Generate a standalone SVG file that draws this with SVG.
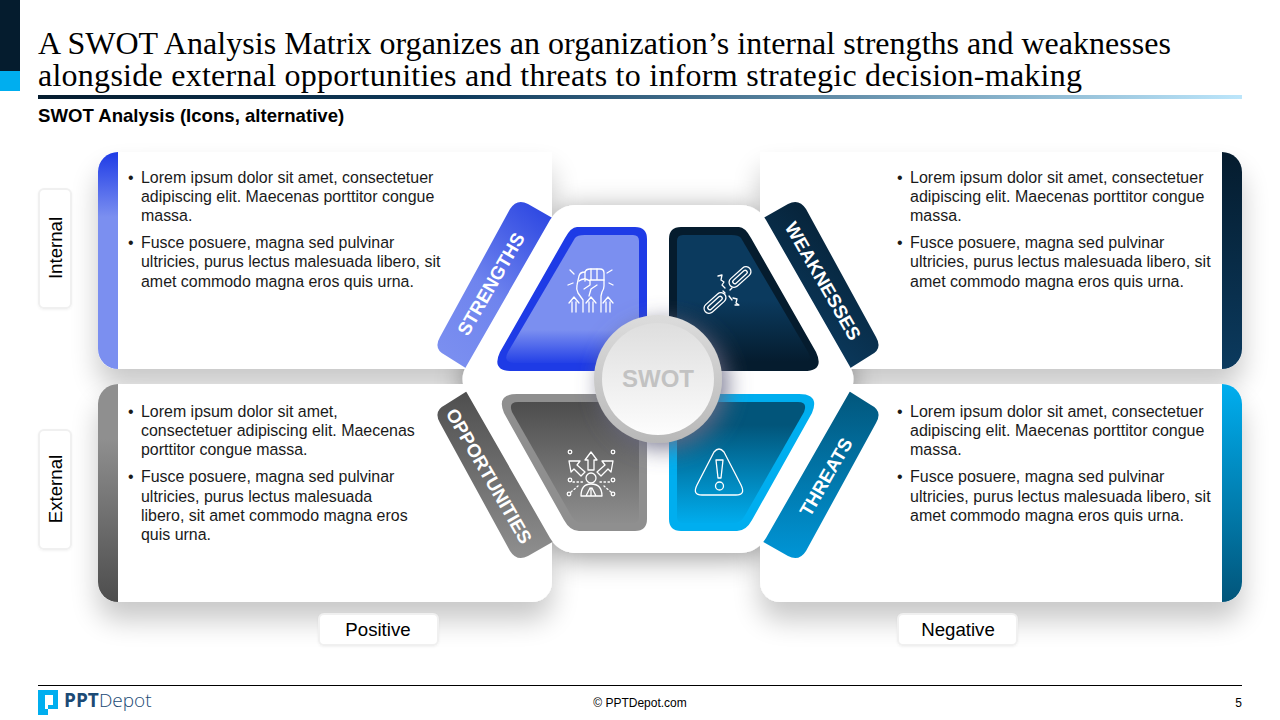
<svg xmlns="http://www.w3.org/2000/svg" width="1280" height="720" viewBox="0 0 1280 720">
<style>
text{font-family:"Liberation Sans",Arial,sans-serif}
.title{font-family:"Liberation Serif","Times New Roman",serif;font-size:32px;fill:#000}
.sub{font-size:18.6px;font-weight:700;fill:#000}
.body{font-size:15.95px;fill:#1a1a1a}
.bodyR{font-size:16px;fill:#1a1a1a}
.rib{font-size:18.67px;font-weight:700;fill:#fff;text-anchor:middle}
.tag{font-size:18.67px;fill:#000;text-anchor:middle}
.box{fill:#fff;stroke:#f0f0f0;stroke-width:2}
.ic{fill:none;stroke:#fff;stroke-width:1.3;stroke-linecap:round;stroke-linejoin:round}
</style>
<defs>
<linearGradient id="bar" x1="0" x2="1" y1="0" y2="0"><stop offset="0" stop-color="#051c2e"/><stop offset=".35" stop-color="#0f3b5c"/><stop offset="1" stop-color="#bce6fb"/></linearGradient>
<linearGradient id="bS" x1="0" x2="0" y1="0" y2="1"><stop offset="0" stop-color="#1e3be6"/><stop offset=".3" stop-color="#7b8ff0"/><stop offset="1" stop-color="#7b8ff0"/></linearGradient>
<linearGradient id="bW" x1="0" x2="0" y1="0" y2="1"><stop offset="0" stop-color="#051c2e"/><stop offset="1" stop-color="#0b3a5e"/></linearGradient>
<linearGradient id="bO" x1="0" x2="0" y1="0" y2="1"><stop offset="0" stop-color="#8f8f8f"/><stop offset=".25" stop-color="#8f8f8f"/><stop offset="1" stop-color="#4d4d4d"/></linearGradient>
<linearGradient id="bT" x1="0" x2="0" y1="0" y2="1"><stop offset="0" stop-color="#00aeef"/><stop offset="1" stop-color="#02557a"/></linearGradient>
<linearGradient id="rS" x1=".8" x2=".2" y1="0" y2="1"><stop offset="0" stop-color="#2f49e2"/><stop offset=".55" stop-color="#6f84ee"/><stop offset="1" stop-color="#7b8ff0"/></linearGradient>
<linearGradient id="rW" x1=".2" x2=".8" y1="0" y2="1"><stop offset="0" stop-color="#051c2e"/><stop offset=".8" stop-color="#0b3a5e"/></linearGradient>
<linearGradient id="rO" x1="0" x2="0" y1="1" y2="0"><stop offset="0" stop-color="#4d4d4d"/><stop offset="1" stop-color="#8f8f8f"/></linearGradient>
<linearGradient id="rT" x1="0" x2="0" y1="1" y2="0"><stop offset="0" stop-color="#02557a"/><stop offset="1" stop-color="#0095d6"/></linearGradient>
<linearGradient id="iS" gradientUnits="userSpaceOnUse" x1="0" x2="0" y1="330" y2="365"><stop offset="0" stop-color="#7b8ff0"/><stop offset="1" stop-color="#1e3be6"/></linearGradient>
<linearGradient id="iW" gradientUnits="userSpaceOnUse" x1="0" x2="0" y1="300" y2="362"><stop offset="0" stop-color="#0b3a5e"/><stop offset="1" stop-color="#051c2e"/></linearGradient>
<linearGradient id="iO" gradientUnits="userSpaceOnUse" x1="0" x2="0" y1="402" y2="525"><stop offset="0" stop-color="#4d4d4d"/><stop offset="1" stop-color="#8f8f8f"/></linearGradient>
<linearGradient id="iT" gradientUnits="userSpaceOnUse" x1="0" x2="0" y1="425" y2="525"><stop offset="0" stop-color="#02557a"/><stop offset="1" stop-color="#00aeef"/></linearGradient>
<linearGradient id="ring" x1="0" x2="0" y1="0" y2="1"><stop offset="0" stop-color="#dcdcdc"/><stop offset="1" stop-color="#b8b8b8"/></linearGradient>
<linearGradient id="disc" x1="0" x2="0" y1="0" y2="1"><stop offset="0" stop-color="#dedede"/><stop offset="1" stop-color="#fdfdfd"/></linearGradient>
<filter id="pShadow" filterUnits="userSpaceOnUse" x="40" y="100" width="1240" height="580"><feGaussianBlur in="SourceAlpha" stdDeviation="14"/><feOffset dy="18"/><feComponentTransfer><feFuncA type="linear" slope=".22"/></feComponentTransfer><feMerge><feMergeNode/><feMergeNode in="SourceGraphic"/></feMerge></filter>
<filter id="hShadow" x="-15%" y="-15%" width="130%" height="130%"><feDropShadow dx="0" dy="5" stdDeviation="14" flood-color="#000" flood-opacity=".4"/></filter>
<filter id="cShadow" x="-30%" y="-30%" width="170%" height="170%"><feDropShadow dx="6" dy="6" stdDeviation="11" flood-color="#6a6a85" flood-opacity=".85"/></filter>
<filter id="tShadow" x="-20%" y="-20%" width="140%" height="140%"><feDropShadow dx="0" dy="1" stdDeviation="1" flood-color="#000" flood-opacity=".05"/></filter>
<path id="hexPath" d="M577 205L739 205Q757 205 766 220L849 365Q858 379 849 393L766 538Q757 553 739 553L577 553Q559 553 550 538L467 393Q458 379 467 365L550 220Q559 205 577 205Z"/>
<path id="ribbon" d="M556 220L528 204Q517 198 510 209L440 337Q433 349 445 355L472 372Z"/>
<path id="qTopO" d="M577 227L635 227Q647 227 647 239L647 371L512 371Q491 371 500 352L565 238Q571 227 577 227Z"/>
<path id="qTopI" d="M585 235L633 235Q639 235 639 241L639 363L516 363Q502 363 508 352L575 238Q577 235 585 235Z"/>
<path id="qBotO" d="M517 394L635 394Q647 394 647 406L647 519Q647 531 635 531L579 531Q570 531 564 520L504 413Q496 394 517 394Z"/>
<path id="qBotI" d="M518 402L633 402Q639 402 639 408L639 517Q639 523 633 523L582 523Q576 523 572 517L512 412Q508 402 518 402Z"/>
</defs>
<rect width="1280" height="720" fill="#fff"/>
<g id="header">
<rect x="0" y="0" width="20" height="71" fill="#051c2e"/>
<rect x="0" y="71" width="20" height="20" fill="#00aeef"/>
<text class="title" x="38" y="53.500" textLength="1133">A SWOT Analysis Matrix organizes an organization’s internal strengths and weaknesses</text>
<text class="title" x="38" y="85.500" textLength="1044">alongside external opportunities and threats to inform strategic decision-making</text>
<rect x="38" y="95" width="1204" height="4" fill="url(#bar)"/>
<text class="sub" x="38" y="122">SWOT Analysis (Icons, alternative)</text>
</g>
<use href="#hexPath" fill="#fff" filter="url(#hShadow)"/>
<g id="panel-strengths">
<path d="M118 152H552V369H118A20 20 0 0 1 98 349V172A20 20 0 0 1 118 152Z" fill="#fff" filter="url(#pShadow)"/>
<path d="M118 152V369A20 20 0 0 1 98 349V172A20 20 0 0 1 118 152Z" fill="url(#bS)"/>
<text class="body"><tspan x="128" y="183">•</tspan><tspan x="141" y="183">Lorem ipsum dolor sit amet, consectetuer</tspan><tspan x="141" y="202">adipiscing elit. Maecenas porttitor congue</tspan><tspan x="141" y="221">massa.</tspan><tspan x="128" y="248">•</tspan><tspan x="141" y="248">Fusce posuere, magna sed pulvinar</tspan><tspan x="141" y="267">ultricies, purus lectus malesuada libero, sit</tspan><tspan x="141" y="287">amet commodo magna eros quis urna.</tspan></text>
</g>
<g id="panel-weaknesses">
<path d="M760 152H1222A20 20 0 0 1 1242 172V349A20 20 0 0 1 1222 369H760Z" fill="#fff" filter="url(#pShadow)"/>
<path d="M1222 152A20 20 0 0 1 1242 172V349A20 20 0 0 1 1222 369Z" fill="url(#bW)"/>
<text class="bodyR"><tspan x="897" y="183">•</tspan><tspan x="910" y="183">Lorem ipsum dolor sit amet, consectetuer</tspan><tspan x="910" y="202">adipiscing elit. Maecenas porttitor congue</tspan><tspan x="910" y="221">massa.</tspan><tspan x="897" y="248">•</tspan><tspan x="910" y="248">Fusce posuere, magna sed pulvinar</tspan><tspan x="910" y="267">ultricies, purus lectus malesuada libero, sit</tspan><tspan x="910" y="287">amet commodo magna eros quis urna.</tspan></text>
</g>
<g id="panel-opportunities">
<path d="M118 384H552V582A20 20 0 0 1 532 602H118A20 20 0 0 1 98 582V404A20 20 0 0 1 118 384Z" fill="#fff" filter="url(#pShadow)"/>
<path d="M118 384V602A20 20 0 0 1 98 582V404A20 20 0 0 1 118 384Z" fill="url(#bO)"/>
<text class="body"><tspan x="128" y="417">•</tspan><tspan x="141" y="417">Lorem ipsum dolor sit amet,</tspan><tspan x="141" y="436">consectetuer adipiscing elit. Maecenas</tspan><tspan x="141" y="455">porttitor congue massa.</tspan><tspan x="128" y="482">•</tspan><tspan x="141" y="482">Fusce posuere, magna sed pulvinar</tspan><tspan x="141" y="502">ultricies, purus lectus malesuada</tspan><tspan x="141" y="521">libero, sit amet commodo magna eros</tspan><tspan x="141" y="540">quis urna.</tspan></text>
</g>
<g id="panel-threats">
<path d="M760 384H1222A20 20 0 0 1 1242 404V582A20 20 0 0 1 1222 602H780A20 20 0 0 1 760 582Z" fill="#fff" filter="url(#pShadow)"/>
<path d="M1222 384A20 20 0 0 1 1242 404V582A20 20 0 0 1 1222 602Z" fill="url(#bT)"/>
<text class="bodyR"><tspan x="897" y="417">•</tspan><tspan x="910" y="417">Lorem ipsum dolor sit amet, consectetuer</tspan><tspan x="910" y="436">adipiscing elit. Maecenas porttitor congue</tspan><tspan x="910" y="455">massa.</tspan><tspan x="897" y="482">•</tspan><tspan x="910" y="482">Fusce posuere, magna sed pulvinar</tspan><tspan x="910" y="502">ultricies, purus lectus malesuada libero, sit</tspan><tspan x="910" y="521">amet commodo magna eros quis urna.</tspan></text>
</g>
<g id="ribbons">
<use href="#ribbon" fill="url(#rS)"/>
<use href="#ribbon" fill="url(#rW)" transform="matrix(-1 0 0 1 1316 0)"/>
<use href="#ribbon" fill="url(#rO)" transform="matrix(1 0 0 -1 0 760)"/>
<use href="#ribbon" fill="url(#rT)" transform="matrix(-1 0 0 -1 1316 760)"/>
</g>
<use id="hexagon" href="#hexPath" fill="#fff"/>
<g id="node-strengths">
<use href="#qTopO" fill="#1e3be6"/>
<use href="#qTopI" fill="url(#iS)"/>
<text class="rib" transform="translate(491 284) rotate(-60)" y="6.500">STRENGTHS</text>
<g class="ic">
<path d="M583 312V300L578 293Q576 289 577 285L579 276Q580 272 585 272Q586 269 590 269H600Q604 269 604 273V286Q604 289 602 292L601 296V312"/>
<path d="M585 272V281M591 269V279M597 269V279M579 281Q584 277 590 281V285L584 289M590 280H604M597 285L591 289L589 296"/>
<path d="M572 312V302M576 312V302M569 303L574 297L579 303"/>
<path d="M589 312V302M593 312V302M586 303L591 297L596 303"/>
<path d="M606 312V302M610 312V302M603 303L608 297L613 303"/>
<path d="M570 270L574 274M568 285L573 283M612 270L607 273M613 285L609 283"/>
</g>
</g>
<g id="node-weaknesses">
<use href="#qTopO" fill="#051c2e" transform="matrix(-1 0 0 1 1316 0)"/>
<use href="#qTopI" fill="url(#iW)" transform="matrix(-1 0 0 1 1316 0)"/>
<text class="rib" transform="translate(823 281) rotate(60)" y="6.500">WEAKNESSES</text>
<g class="ic">
<rect x="-13" y="-5" width="26" height="10" rx="5" transform="translate(740 277) rotate(-42)"/>
<rect x="-9" y="-2" width="18" height="4" rx="2" transform="translate(740 277) rotate(-42)"/>
<rect x="-13" y="-5" width="26" height="10" rx="5" transform="translate(715 303) rotate(-42)"/>
<rect x="-9" y="-2" width="18" height="4" rx="2" transform="translate(715 303) rotate(-42)"/>
<path d="M718 276L722 275L721 280L724 282L722 285L725 288M733 298L737 299L736 303L739 305L735 305M729 296L732 300M725 293L723 291M730 290L732 288"/>
</g>
</g>
<g id="node-opportunities">
<use href="#qBotO" fill="#8f8f8f"/>
<use href="#qBotI" fill="url(#iO)"/>
<text class="rib" transform="translate(489 476) rotate(60)" y="6.500">OPPORTUNITIES</text>
<g class="ic">
<circle cx="591" cy="478" r="5"/>
<path d="M581 496Q581 484 591 484Q602 484 602 496ZM586 496L590 488M596 496L592 488M591 488V496"/>
<path d="M591 452L597 460H594V470H588V460H585Z"/>
<path d="M569 461L580 461L577 465L585 472L581 476L574 469L571 472Z"/>
<path d="M613 461L602 461L605 465L597 472L601 476L608 469L611 472Z"/>
<circle cx="570" cy="452" r="1.800"/><circle cx="613" cy="452" r="1.800"/><circle cx="570" cy="480" r="1.800"/><circle cx="613" cy="480" r="1.800"/><circle cx="569" cy="494" r="1.800"/><circle cx="613" cy="494" r="1.800"/>
<path stroke-dasharray="1.500 2.500" d="M573 482H583M600 482H610M571 492L578 486M611 492L604 486"/>
</g>
</g>
<g id="node-threats">
<use href="#qBotO" fill="#00aeef" transform="matrix(-1 0 0 1 1316 0)"/>
<use href="#qBotI" fill="url(#iT)" transform="matrix(-1 0 0 1 1316 0)"/>
<text class="rib" transform="translate(826 477) rotate(-60)" y="6.500">THREATS</text>
<g class="ic">
<path d="M714 452Q719 446 724 452L741 485Q746 495 736 495H702Q692 495 697 485Z"/>
<path d="M716 460H723L721 478H718Z"/>
<circle cx="719.500" cy="486" r="4"/>
</g>
</g>
<g id="node-swot">
<circle cx="658" cy="379" r="64" fill="url(#ring)" filter="url(#cShadow)"/>
<circle cx="658" cy="379" r="56" fill="url(#disc)"/>
<text x="658" y="387" text-anchor="middle" font-size="24" font-weight="700" fill="#c2c2c2">SWOT</text>
</g>
<g id="label-internal"><rect class="box" x="39" y="189" width="32" height="119" rx="5" filter="url(#tShadow)"/><text class="tag" transform="translate(61.500 248) rotate(-90)">Internal</text></g>
<g id="label-external"><rect class="box" x="39" y="430" width="32" height="119" rx="5" filter="url(#tShadow)"/><text class="tag" transform="translate(61.500 489) rotate(-90)">External</text></g>
<g id="label-positive"><rect class="box" x="319" y="614" width="119" height="31" rx="5" filter="url(#tShadow)"/><text class="tag" x="378" y="635.500">Positive</text></g>
<g id="label-negative"><rect class="box" x="898" y="614" width="119" height="31" rx="5" filter="url(#tShadow)"/><text class="tag" x="958" y="635.500">Negative</text></g>
<g id="footer">
<line x1="38" y1="685.500" x2="1242" y2="685.500" stroke="#000" stroke-width="1"/>
<path fill-rule="evenodd" fill="#00aeef" d="M38 690H58V709H48V715H38ZM45 695V709H48V705H53V695Z"/>
<text x="64" y="707" font-size="19" fill="#1b4a75" style="font-family:'Open Sans','Liberation Sans',sans-serif"><tspan font-weight="700">PPT</tspan><tspan font-weight="300">Depot</tspan></text>
<text x="640" y="707" font-size="12" fill="#000" text-anchor="middle">© PPTDepot.com</text>
<text x="1242" y="707" font-size="12" fill="#000" text-anchor="end">5</text>
</g>
</svg>
